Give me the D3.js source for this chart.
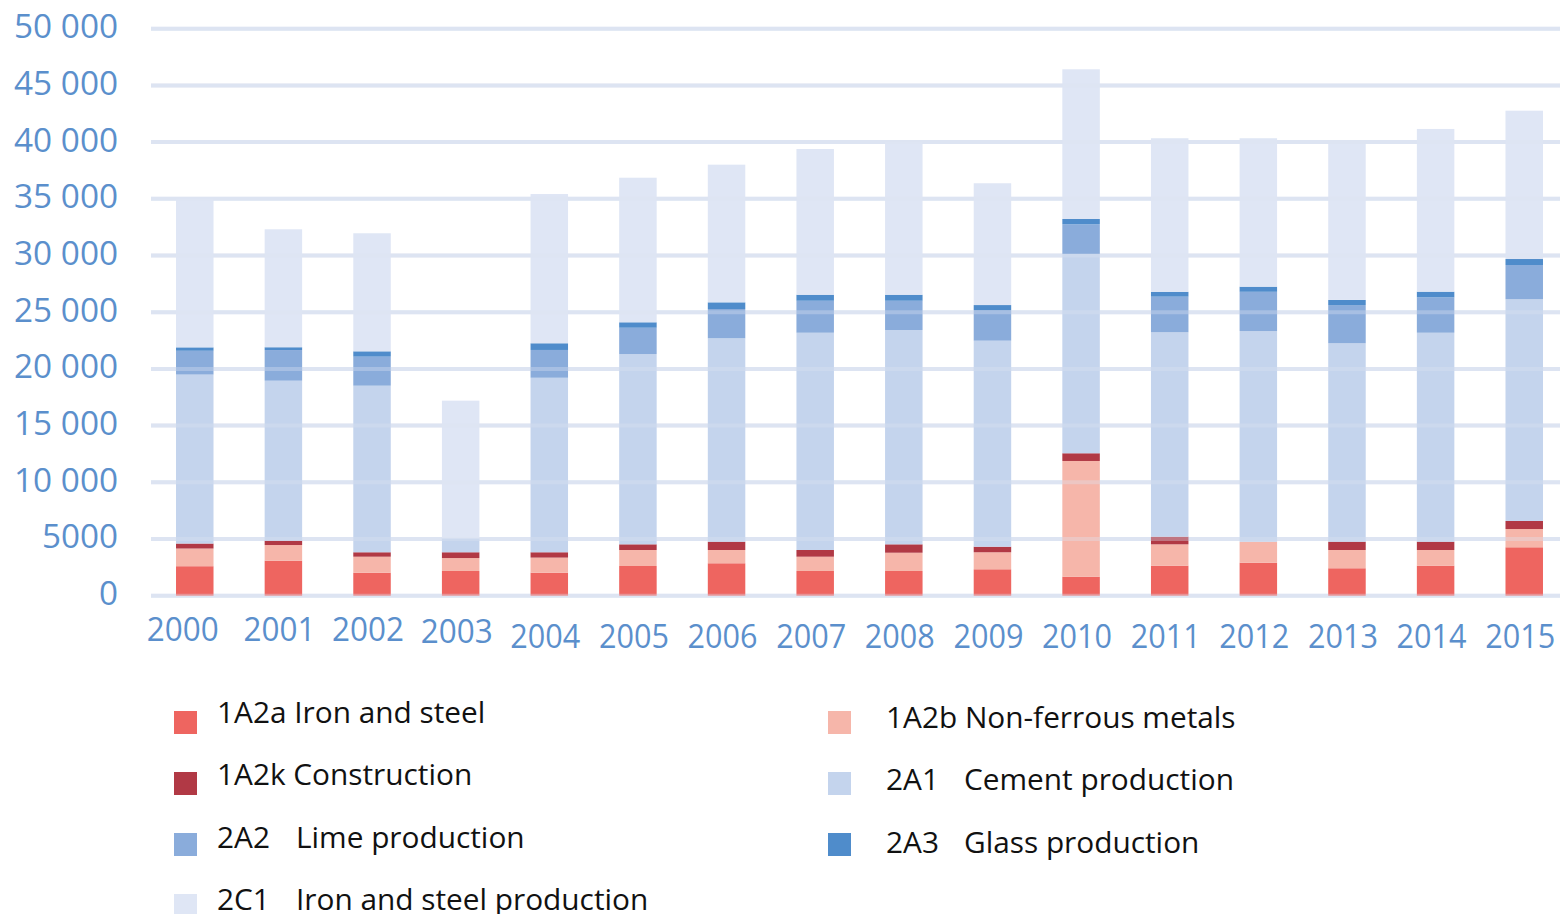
<!DOCTYPE html>
<html>
<head>
<meta charset="utf-8">
<script src="https://cdn.jsdelivr.net/npm/d3@7"></script>
<style>
  html, body { margin: 0; padding: 0; background: #fff; }
  svg { display: block; }
</style>
</head>
<body>
<div id="chart"></div>
<script>
// ── 1. Data (t CO2-eq per year) ───────────────────────────────
const YEARS = ["2000", "2001", "2002", "2003", "2004", "2005", "2006", "2007",
               "2008", "2009", "2010", "2011", "2012", "2013", "2014", "2015"];

const IRON_STEEL   = [2600, 3090, 2030, 2180, 2030, 2620, 2860, 2180, 2180, 2330, 1680, 2650, 2910, 2420, 2650, 4270];
const NON_FERROUS  = [1560, 1380, 1410, 1140, 1330, 1410, 1170, 1260, 1610, 1500, 10200, 1880, 1850, 1610, 1380, 1610];
const CONSTRUCTION = [440, 380, 390, 510, 470, 500, 730, 590, 740, 490, 680, 670, 0, 730, 730, 710];
const CEMENT       = [14900, 14110, 14690, 1230, 15390, 16780, 17940, 19160, 18900, 18170, 17570, 18030, 18580, 17500, 18430, 19550];
const LIME         = [2100, 2700, 2560, 0, 2450, 2320, 2580, 2820, 2580, 2700, 2620, 3140, 3460, 3370, 3120, 3020];
const GLASS        = [300, 250, 470, 0, 590, 480, 590, 530, 530, 440, 470, 430, 450, 450, 500, 530];
const IRON_PROD    = [13140, 10400, 10410, 12140, 13160, 12750, 12140, 12850, 13500, 10740, 13200, 13540, 13090, 13770, 14350, 13080];

const Y_TICKS = [0, 5000, 10000, 15000, 20000, 25000, 30000, 35000, 40000, 45000, 50000];

// stack order bottom → top
const SERIES = [
  { key: "ironSteel",    code: "1A2a", name: "Iron and steel",            values: IRON_STEEL,   color: "#ee6560" },
  { key: "nonFerrous",   code: "1A2b", name: "Non-ferrous metals",        values: NON_FERROUS,  color: "#f6b6aa" },
  { key: "construction", code: "1A2k", name: "Construction",              values: CONSTRUCTION, color: "#b13945" },
  { key: "cement",       code: "2A1",  name: "Cement production",         values: CEMENT,       color: "#c4d4ed" },
  { key: "lime",         code: "2A2",  name: "Lime production",           values: LIME,         color: "#8aacdb" },
  { key: "glass",        code: "2A3",  name: "Glass production",          values: GLASS,        color: "#4f8ccb" },
  { key: "ironProd",     code: "2C1",  name: "Iron and steel production", values: IRON_PROD,    color: "#dfe6f5" },
];

// legend layout: column, row
const LEGEND_ORDER = [
  ["ironSteel", 0, 0], ["construction", 0, 1], ["lime", 0, 2], ["ironProd", 0, 3],
  ["nonFerrous", 1, 0], ["cement", 1, 1], ["glass", 1, 2],
];


// ── 2. Canvas ──────────────────────────────────────────────────
const W = 1560, H = 914;
const TEXT_BLUE = "#5b8fcc";
const GRID      = "#dde4f2";

const svg = d3.select("#chart").append("svg")
  .attr("width",  W)
  .attr("height", H)
  .attr("viewBox", `0 0 ${W} ${H}`);

svg.append("rect").attr("width", W).attr("height", H).attr("fill", "#fff");

const x = d3.scaleBand()
  .domain(YEARS)
  .range([152, 1567])
  .paddingInner(0.577)
  .paddingOuter(0.271);

const y = d3.scaleLinear()
  .domain([0, 50000])
  .range([595.7, 28.7]);


// ── 3. Gridlines (under bars) ─────────────────────────────────
const gridUnder = svg.append("g");
gridUnder.selectAll("line")
  .data(Y_TICKS)
  .join("line")
  .attr("x1", 151).attr("x2", W)
  .attr("y1", d => y(d)).attr("y2", d => y(d))
  .attr("stroke", GRID)
  .attr("stroke-width", 4);


// ── 4. Stacked bars ───────────────────────────────────────────
const rows = YEARS.map((yr, i) => {
  const r = { year: yr };
  SERIES.forEach(s => { r[s.key] = s.values[i]; });
  return r;
});

const stack = d3.stack().keys(SERIES.map(s => s.key))(rows);

svg.append("g")
  .selectAll("g")
  .data(stack)
  .join("g")
  .attr("fill", (d, i) => SERIES[i].color)
  .selectAll("rect")
  .data(d => d)
  .join("rect")
  .attr("x",      d => x(d.data.year))
  .attr("width",  x.bandwidth())
  .attr("y",      d => y(d[1]))
  .attr("height", d => y(d[0]) - y(d[1]));


// ── 5. Gridlines showing faintly through the bars ─────────────
svg.append("g")
  .selectAll("line")
  .data(Y_TICKS)
  .join("line")
  .attr("x1", 151).attr("x2", W)
  .attr("y1", d => y(d)).attr("y2", d => y(d))
  .attr("stroke", GRID)
  .attr("stroke-width", 4)
  .attr("opacity", 0.35);


// ── 6. Axes ───────────────────────────────────────────────────
const fmt = v => v >= 10000 ? d3.format(",")(v).replace(",", " ") : String(v);

const yAxis = svg.append("g")
  .attr("transform", "translate(118,0)")
  .call(d3.axisLeft(y).tickValues(Y_TICKS).tickSize(0).tickPadding(0).tickFormat(fmt));
yAxis.select(".domain").remove();
yAxis.selectAll("text")
  .attr("fill", TEXT_BLUE)
  .attr("font-family", "'Open Sans', sans-serif")
  .attr("font-size", "32px")
  .attr("dy", "0.28em")
  .attr("textLength", d => fmt(d).length * 19 - (fmt(d).includes(" ") ? 10 : 0))
  .attr("lengthAdjust", "spacingAndGlyphs");

const xAxis = svg.append("g")
  .attr("transform", "translate(-4,0)")
  .call(d3.axisBottom(x).tickSize(0).tickPadding(0));
xAxis.select(".domain").remove();
xAxis.selectAll("text")
  .attr("fill", TEXT_BLUE)
  .attr("font-family", "'Open Sans', sans-serif")
  .attr("font-size", "32px")
  .attr("dy", null)
  .attr("dx", (d, i) => i === 0 ? -8 : 0)
  .attr("y", (d, i) => i < 3 ? 641 : i === 3 ? 643 : 648)
  .attr("textLength", (d, i) => i < 4 ? 72 : 70)
  .attr("lengthAdjust", "spacingAndGlyphs");


// ── 7. Legend ─────────────────────────────────────────────────
const LEG_SW_X   = [174, 828];
const LEG_TEXT_X = [217, 886];
const LEG_NAME_X = [296, 964];
const legend = svg.append("g")
  .attr("font-family", "'Open Sans', sans-serif")
  .attr("font-size", "29.8px")
  .attr("fill", "#111");

LEGEND_ORDER.forEach(([key, col, row]) => {
  const s    = SERIES.find(d => d.key === key);
  const top  = 711 + row * 61;
  const base = (col === 0 ? 723 : 728) + row * 62.3;

  legend.append("rect")
    .attr("x", LEG_SW_X[col]).attr("y", top)
    .attr("width", 23).attr("height", 23)
    .attr("fill", s.color);

  const t = legend.append("text").attr("y", base);
  if (s.code.startsWith("2")) {
    t.append("tspan").attr("x", LEG_TEXT_X[col]).text(s.code);
    t.append("tspan").attr("x", LEG_NAME_X[col]).text(s.name);
  } else {
    t.append("tspan").attr("x", LEG_TEXT_X[col]).text(`${s.code} ${s.name}`);
  }
});
</script>
</body>
</html>
